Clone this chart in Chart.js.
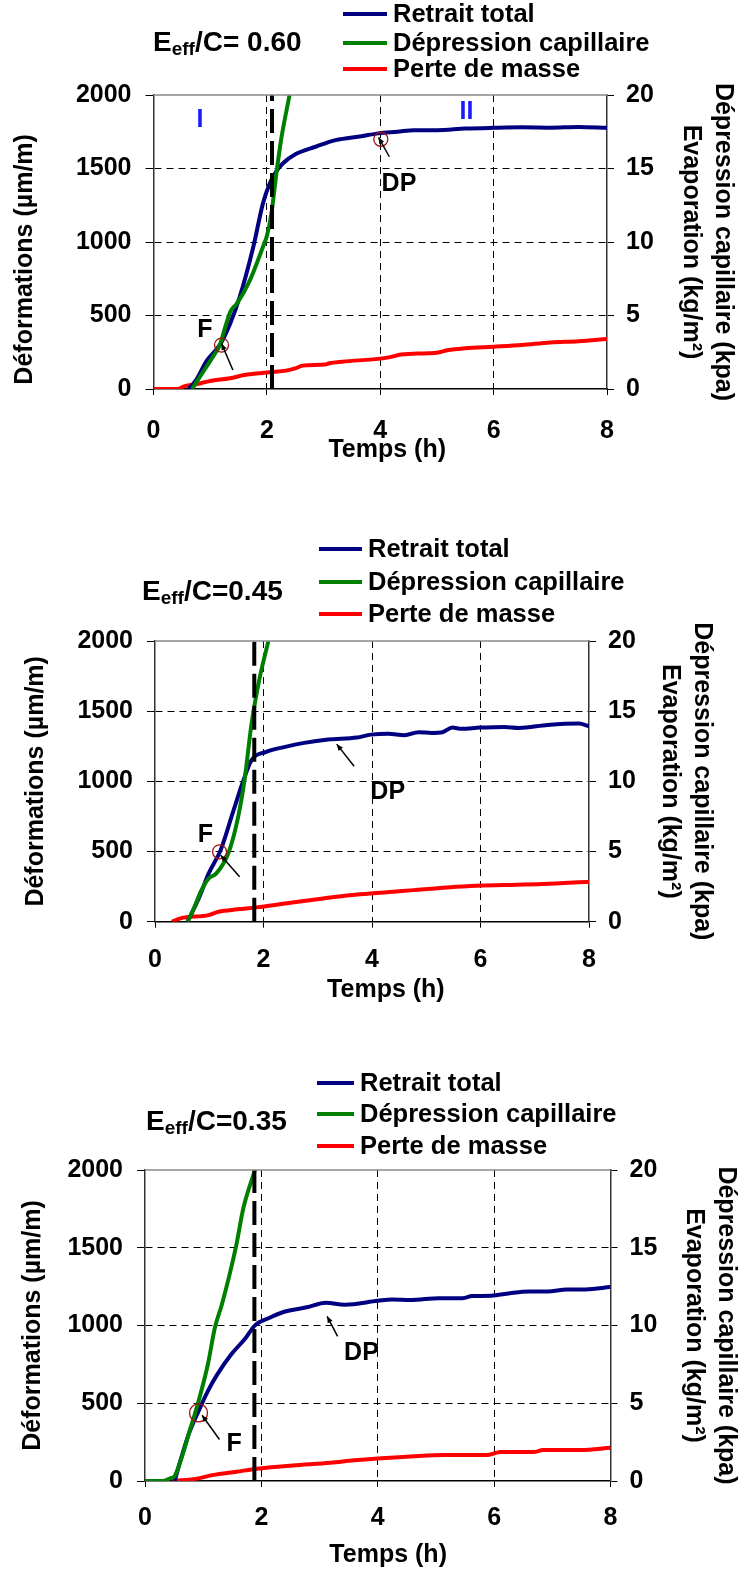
<!DOCTYPE html>
<html>
<head>
<meta charset="utf-8">
<title>Retrait total, dépression capillaire et perte de masse</title>
<script src="https://cdn.jsdelivr.net/npm/chart.js"></script>
<style>
  body { margin: 0; background: #fff; font-family: 'Liberation Sans', Arial, sans-serif; font-weight: bold; color: #000; }
  #page { position: relative; width: 743px; height: 1583px; overflow: hidden; }
  .panel { position: absolute; left: 0; width: 743px; }
  .panel canvas { position: absolute; left: 0; top: 0; }
  .ttl { position: absolute; font-size: 28px; line-height: 1; white-space: nowrap; transform: translateY(-50%); }
  .ttl sub { font-size: 19px; line-height: 1; vertical-align: -4px; }
  .leg { position: absolute; font-size: 25.5px; line-height: 1; white-space: nowrap; transform: translateY(-50%); }
  .sw { position: absolute; height: 4px; }
</style>
</head>
<body>
<div id="page"></div>
<script>
// --- data (time in h; retrait in µm/m; dépression in kPa; perte de masse in kg/m²) ---
const seriesNames = ['Retrait total', 'Dépression capillaire', 'Perte de masse'];
const seriesColors = ['#000080', '#008000', '#ff0000'];
const panelTitles = ['= 0.60', '=0.45', '=0.35'];

const c1RetraitT = [0.62, 0.75, 0.94, 1.17, 1.35, 1.52, 1.76, 1.93, 2.05, 2.16, 2.28, 2.51, 2.86, 3.21, 3.67, 3.97, 4.3, 4.6, 5.0, 5.5, 6.0, 6.5, 7.0, 7.5, 8.0];
const c1RetraitV = [0, 60, 193, 300, 443, 625, 966, 1261, 1398, 1477, 1534, 1598, 1648, 1693, 1720, 1739, 1750, 1761, 1761, 1772, 1777, 1780, 1778, 1783, 1777];
const c1DepressionT = [0.68, 0.88, 1.05, 1.17, 1.28, 1.36, 1.47, 1.70, 1.93, 2.0, 2.08, 2.16, 2.25, 2.40];
const c1DepressionV = [0, 1.2, 2.2, 3.0, 4.4, 5.3, 5.8, 7.39, 9.66, 10.4, 11.93, 14.43, 16.93, 20];
const c1PerteT = [0, 0.42, 0.55, 0.77, 1.0, 1.35, 1.6, 2.05, 2.34, 2.5, 2.63, 3.03, 3.1, 3.33, 3.97, 4.15, 4.37, 4.84, 5.0, 5.2, 5.5, 6.0, 6.5, 7.0, 7.5, 8.0];
const c1PerteV = [0, 0, 0.2, 0.34, 0.55, 0.73, 0.95, 1.14, 1.25, 1.4, 1.59, 1.66, 1.75, 1.86, 2.05, 2.15, 2.34, 2.43, 2.47, 2.65, 2.77, 2.88, 3.0, 3.17, 3.25, 3.4];
const c1Split = 2.09;

const c2RetraitT = [0.6, 0.82, 0.99, 1.21, 1.43, 1.61, 1.78, 2.05, 2.40, 2.75, 3.19, 3.72, 3.98, 4.3, 4.6, 4.86, 5.1, 5.3, 5.48, 5.65, 5.99, 6.44, 6.71, 7.24, 7.81, 8.0];
const c2RetraitV = [0, 178, 344, 510, 771, 985, 1151, 1210, 1246, 1274, 1298, 1312, 1333, 1340, 1329, 1350, 1345, 1350, 1383, 1374, 1383, 1388, 1381, 1402, 1412, 1393];
const c2DepressionT = [0.6, 0.73, 0.85, 0.99, 1.13, 1.35, 1.52, 1.65, 1.78, 1.92, 2.09];
const c2DepressionV = [0, 1.07, 2.2, 3.08, 3.44, 4.86, 7.24, 10.08, 14.12, 17.2, 20];
const c2PerteT = [0.31, 0.47, 0.99, 1.17, 1.52, 1.87, 2.40, 3.10, 3.63, 4.16, 4.77, 5.39, 5.92, 6.44, 7.15, 8.0];
const c2PerteV = [0, 0.24, 0.47, 0.71, 0.88, 1.02, 1.30, 1.66, 1.90, 2.06, 2.25, 2.44, 2.56, 2.61, 2.68, 2.85];
const c2Split = 1.83;

const c3RetraitT = [0.51, 0.59, 0.75, 0.92, 1.08, 1.24, 1.48, 1.73, 1.89, 2.13, 2.38, 2.78, 3.11, 3.43, 4.0, 4.24, 4.57, 5.05, 5.46, 5.62, 5.95, 6.27, 6.60, 6.92, 7.25, 7.57, 8.0];
const c3RetraitV = [0, 107, 300, 449, 578, 684, 813, 920, 1001, 1048, 1087, 1117, 1146, 1134, 1159, 1168, 1164, 1176, 1176, 1189, 1191, 1208, 1219, 1219, 1232, 1232, 1247];
const c3DepressionT = [0, 0.3, 0.43, 0.51, 0.63, 0.75, 0.92, 1.08, 1.2, 1.32, 1.48, 1.57, 1.69, 1.89];
const c3DepressionV = [0, 0, 0.17, 0.32, 1.5, 3.0, 5.13, 7.49, 9.84, 11.34, 13.69, 15.19, 17.54, 20];
const c3PerteT = [0.47, 0.92, 1.16, 1.57, 1.97, 2.54, 3.19, 3.59, 4.0, 4.57, 5.14, 5.87, 6.11, 6.68, 6.84, 7.49, 8.0];
const c3PerteV = [0, 0.17, 0.38, 0.60, 0.81, 1.00, 1.18, 1.33, 1.45, 1.58, 1.67, 1.67, 1.86, 1.86, 1.99, 1.99, 2.14];
const c3Split = 1.88;

// annotations, in data coordinates (h, µm/m)
const c1Texts = [['I', 0.82, 1830, '#1a1aff'], ['II', 5.52, 1884, '#1a1aff'], ['F', 0.905, 401, '#000'], ['DP', 4.33, 1395, '#000']];
const c1Circles = [[1.2, 299, 7], [4.01, 1699, 7]];
const c1Arrows = [[1.40, 129, 1.2, 310], [4.16, 1580, 3.97, 1712]];
const c2Texts = [['F', 0.93, 617, '#000'], ['DP', 4.29, 925, '#000']];
const c2Circles = [[1.19, 498, 7]];
const c2Arrows = [[1.56, 320, 1.21, 474], [3.67, 1108, 3.35, 1265]];
const c3Texts = [['F', 1.53, 235, '#000'], ['DP', 3.72, 823, '#000']];
const c3Circles = [[0.92, 438, 9]];
const c3Arrows = [[1.28, 267, 0.98, 423], [3.31, 930, 3.13, 1059]];

// --- layout of the three panels (page pixels) ---
const panels = [
  { top: 0, h: 470, left: 153.5, right: 607, plotTop: 95, plotBottom: 389,
    yTitlePad: 10, yTitleShift: 5, y1TitlePad: 3.5, xTickPad: 21, xTitlePad: 5, xTitleShift: 2,
    title: [153, 43], legend: [343, 387, 393, [14, 42.5, 69]],
    retrait: [c1RetraitT, c1RetraitV], depression: [c1DepressionT, c1DepressionV], perte: [c1PerteT, c1PerteV],
    split: c1Split, texts: c1Texts, circles: c1Circles, arrows: c1Arrows },
  { top: 520, h: 500, left: 155, right: 589, plotTop: 641, plotBottom: 921.7,
    yTitlePad: 21, yTitleShift: 0, y1TitlePad: 24.5, xTickPad: 17, xTitlePad: 15, xTitleShift: 4,
    title: [142, 592], legend: [318.5, 362, 368, [548.5, 582, 613.5]],
    retrait: [c2RetraitT, c2RetraitV], depression: [c2DepressionT, c2DepressionV], perte: [c2PerteT, c2PerteV],
    split: c2Split, texts: c2Texts, circles: c2Circles, arrows: c2Arrows },
  { top: 1050, h: 533, left: 145, right: 610.5, plotTop: 1170, plotBottom: 1481,
    yTitlePad: 18, yTitleShift: 0, y1TitlePad: 0.75, xTickPad: 16, xTitlePad: 13, xTitleShift: 3,
    title: [146, 1122], legend: [317, 354, 360, [1082.5, 1113.5, 1146]],
    retrait: [c3RetraitT, c3RetraitV], depression: [c3DepressionT, c3DepressionV], perte: [c3PerteT, c3PerteV],
    split: c3Split, texts: c3Texts, circles: c3Circles, arrows: c3Arrows }
];

const FONT = { family: "'Liberation Sans', Arial, sans-serif", size: 25, weight: 'bold' };
const pts = (t, v) => t.map((x, i) => ({ x: x, y: v[i] }));
const plain = v => String(v);
const nb = n => '\u00a0'.repeat(n);

function notesPlugin(p) {
  return {
    id: 'notes',
    afterDatasetsDraw(chart) {
      const { ctx, scales: { x, y } } = chart;
      ctx.save();
      ctx.font = "bold 25px 'Liberation Sans', Arial, sans-serif";
      ctx.textAlign = 'center';
      ctx.textBaseline = 'middle';
      p.texts.forEach(([s, tx, ty, col]) => {
        ctx.fillStyle = col;
        ctx.fillText(s, x.getPixelForValue(tx), y.getPixelForValue(ty));
      });
      ctx.strokeStyle = '#a01010';
      ctx.lineWidth = 1.3;
      p.circles.forEach(([cx, cy, r]) => {
        ctx.beginPath();
        ctx.arc(x.getPixelForValue(cx), y.getPixelForValue(cy), r, 0, Math.PI * 2);
        ctx.stroke();
      });
      ctx.strokeStyle = '#000';
      ctx.fillStyle = '#000';
      ctx.lineWidth = 1.5;
      p.arrows.forEach(([x0, y0, x1, y1]) => {
        const ax = x.getPixelForValue(x0), ay = y.getPixelForValue(y0);
        const bx = x.getPixelForValue(x1), by = y.getPixelForValue(y1);
        const a = Math.atan2(by - ay, bx - ax);
        ctx.beginPath();
        ctx.moveTo(ax, ay);
        ctx.lineTo(bx, by);
        ctx.stroke();
        ctx.beginPath();
        ctx.moveTo(bx, by);
        ctx.lineTo(bx - 7 * Math.cos(a - 0.4), by - 7 * Math.sin(a - 0.4));
        ctx.lineTo(bx - 7 * Math.cos(a + 0.4), by - 7 * Math.sin(a + 0.4));
        ctx.closePath();
        ctx.fill();
      });
      ctx.restore();
    },
    afterDraw(chart) {
      // top frame of the plot area
      const { ctx, chartArea } = chart;
      ctx.save();
      ctx.strokeStyle = '#8a8a8a';
      ctx.lineWidth = 1.5;
      ctx.beginPath();
      ctx.moveTo(chartArea.left, chartArea.top);
      ctx.lineTo(chartArea.right, chartArea.top);
      ctx.stroke();
      ctx.restore();
    }
  };
}

function buildPanel(p, idx) {
  const page = document.getElementById('page');
  const wrap = document.createElement('div');
  wrap.className = 'panel';
  wrap.style.top = p.top + 'px';
  wrap.style.height = p.h + 'px';
  page.appendChild(wrap);

  const canvas = document.createElement('canvas');
  canvas.width = 743;
  canvas.height = p.h;
  wrap.appendChild(canvas);

  const ttl = document.createElement('div');
  ttl.className = 'ttl';
  ttl.style.left = p.title[0] + 'px';
  ttl.style.top = (p.title[1] - p.top) + 'px';
  ttl.innerHTML = 'E<sub>eff</sub>/C' + panelTitles[idx];
  wrap.appendChild(ttl);

  const [lx0, lx1, tx, rows] = p.legend;
  seriesNames.forEach((name, i) => {
    const sw = document.createElement('div');
    sw.className = 'sw';
    sw.style.left = lx0 + 'px';
    sw.style.width = (lx1 - lx0) + 'px';
    sw.style.top = (rows[i] - p.top - 2) + 'px';
    sw.style.background = seriesColors[i];
    wrap.appendChild(sw);
    const lt = document.createElement('div');
    lt.className = 'leg';
    lt.style.left = tx + 'px';
    lt.style.top = (rows[i] - p.top) + 'px';
    lt.textContent = name;
    wrap.appendChild(lt);
  });

  const edge = (lo, hi) => c => (c.tick && (c.tick.value === lo || c.tick.value === hi)) ? 'rgba(0,0,0,0)' : '#000';
  // no-break spaces nudge the axis titles off the axis centre, as in the original figure
  const yTitle = 'Déformations (µm/m)' + nb(p.yTitleShift);
  const xTitle = nb(p.xTitleShift) + 'Temps (h)';

  new Chart(canvas, {
    type: 'line',
    data: {
      datasets: [
        { label: 'limite', data: [{ x: p.split, y: 0 }, { x: p.split, y: 20 }], yAxisID: 'y1',
          borderColor: '#000', borderWidth: 4, borderDash: [24, 8], cubicInterpolationMode: 'default', tension: 0 },
        { label: seriesNames[1], data: pts(p.depression[0], p.depression[1]), yAxisID: 'y1', borderColor: seriesColors[1] },
        { label: seriesNames[0], data: pts(p.retrait[0], p.retrait[1]), yAxisID: 'y', borderColor: seriesColors[0] },
        { label: seriesNames[2], data: pts(p.perte[0], p.perte[1]), yAxisID: 'y1', borderColor: seriesColors[2] }
      ]
    },
    options: {
      responsive: false,
      animation: false,
      devicePixelRatio: 1,
      layout: { padding: { top: p.plotTop - p.top, left: 0, right: 0, bottom: 0 } },
      plugins: { legend: { display: false }, tooltip: { enabled: false } },
      elements: {
        point: { radius: 0 },
        line: { borderWidth: 4, cubicInterpolationMode: 'monotone', borderCapStyle: 'butt' }
      },
      scales: {
        x: {
          type: 'linear', min: 0, max: 8,
          ticks: { stepSize: 2, color: '#000', font: FONT, padding: p.xTickPad, callback: plain },
          grid: { color: edge(0, 8), tickColor: '#000', tickLength: 6, lineWidth: 1 },
          border: { color: '#000', width: 1.5, dash: [7, 5] },
          title: { display: true, text: xTitle, color: '#000', font: FONT, padding: { top: 0, bottom: p.xTitlePad } },
          afterFit: s => { s.height = p.top + p.h - p.plotBottom; }
        },
        y: {
          position: 'left', min: 0, max: 2000,
          ticks: { stepSize: 500, color: '#000', font: FONT, padding: 14, callback: plain },
          grid: { color: edge(0, 2000), tickColor: '#000', tickLength: 8, lineWidth: 1 },
          border: { color: '#333', width: 1.5, dash: [7, 5] },
          title: { display: true, text: yTitle, color: '#000', font: FONT, padding: { top: p.yTitlePad, bottom: 0 } },
          afterFit: s => { s.width = p.left; }
        },
        y1: {
          position: 'right', min: 0, max: 20,
          ticks: { stepSize: 5, color: '#000', font: FONT, padding: 12, callback: plain },
          grid: { drawOnChartArea: false, tickColor: '#000', tickLength: 7 },
          border: { color: '#333', width: 1.5 },
          title: { display: true, text: ['Dépression capillaire (kpa)', 'Evaporation (kg/m²)'], color: '#000',
                   font: Object.assign({}, FONT, { lineHeight: 1.3 }), padding: { top: p.y1TitlePad, bottom: 0 } },
          afterFit: s => { s.width = 743 - p.right; }
        }
      }
    },
    plugins: [notesPlugin(p)]
  });
}

panels.forEach(buildPanel);
</script>
</body>
</html>
